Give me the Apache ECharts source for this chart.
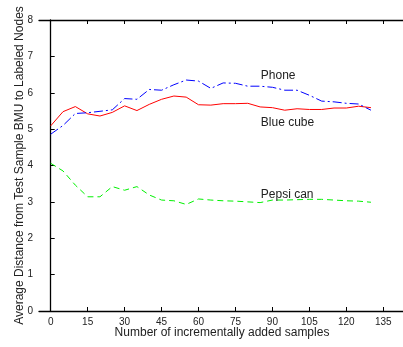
<!DOCTYPE html>
<html><head><meta charset="utf-8">
<script src="https://cdn.jsdelivr.net/npm/echarts@6/dist/echarts.min.js"></script>
<style>html,body{margin:0;padding:0;background:#fff}#c{width:403px;height:347px}</style>
</head><body><div id="c"></div>
<script>
const xValues = [0,5,10,15,20,25,30,35,40,45,50,55,60,65,70,75,80,85,90,95,100,105,110,115,120,125,130];
const phone = [4.86,5.10,5.43,5.45,5.49,5.53,5.84,5.82,6.09,6.07,6.22,6.35,6.32,6.12,6.27,6.26,6.18,6.18,6.15,6.07,6.07,5.93,5.77,5.75,5.71,5.69,5.52];
const blueCube = [5.09,5.48,5.62,5.42,5.36,5.46,5.64,5.51,5.68,5.82,5.91,5.88,5.67,5.66,5.70,5.70,5.71,5.61,5.59,5.52,5.56,5.54,5.54,5.58,5.58,5.63,5.59];
const pepsiCan = [4.06,3.85,3.46,3.14,3.14,3.42,3.32,3.42,3.19,3.05,3.03,2.93,3.08,3.05,3.03,3.02,3.00,2.98,3.05,3.05,3.06,3.07,3.07,3.05,3.03,3.02,2.99];
const xTicks = [0,15,30,45,60,75,90,105,120,135];
const yTicks = [0,1,2,3,4,5,6,7,8];
const seriesNames = ['Phone','Blue cube','Pepsi can'];
const labelPos = [[85.3,6.48],[85.3,5.19],[85.3,3.21]];

const font = 'Liberation Sans, Arial, sans-serif';
const chart = echarts.init(document.getElementById('c'), null, {renderer:'canvas'});
function pairs(v){ return xValues.map((x,i)=>[x,v[i]]); }
const colors = ['#0000ff','#ff0000','#00f000'];
const types = [[9,3,2,3],'solid',[6,4]];
const data = [phone, blueCube, pepsiCan];
const axisLine = {show:true, lineStyle:{color:'#000', width:1.3}};
chart.setOption({
  animation:false,
  grid:{left:39, top:20, right:0, height:291},
  xAxis:[{
    type:'value', min:-4.75, max:143, position:'bottom',
    axisLine: axisLine,
    axisTick:{show:true, inside:true, length:4, customValues:xTicks, lineStyle:{color:'#000'}},
    axisLabel:{customValues:xTicks, color:'#222', fontSize:10, fontFamily:font, margin:6},
    splitLine:{show:false},
    name:'Number of incrementally added samples', nameLocation:'middle', nameGap:16, nameMoveOverlap:false,
    nameTextStyle:{fontSize:12, color:'#222', fontFamily:font, padding:[0,0,0,2]}
  },{
    type:'value', min:-4.75, max:143, position:'top',
    axisLine: axisLine,
    axisTick:{show:true, inside:true, length:4, customValues:xTicks, lineStyle:{color:'#000'}},
    axisLabel:{show:false}, splitLine:{show:false}
  }],
  yAxis:{
    type:'value', min:0, max:8, interval:1,
    axisLine: axisLine,
    axisTick:{show:true, inside:true, length:4, lineStyle:{color:'#000'}},
    axisLabel:{customValues:yTicks, color:'#222', fontSize:10, fontFamily:font, margin:6},
    splitLine:{show:false},
    name:'Average Distance from Test Sample BMU to Labeled Nodes', nameLocation:'middle', nameGap:13, nameMoveOverlap:false,
    nameTextStyle:{fontSize:12, color:'#222', fontFamily:font}
  },
  series: seriesNames.map((n,i)=>({
    name:n, type:'line', data:pairs(data[i]), showSymbol:false, symbol:'none',
    lineStyle:{color:colors[i], width:1, type:types[i]},
    z: 3-i,
    markPoint:{
      symbol:'circle', symbolSize:0,
      data:[{coord:labelPos[i], value:n}],
      label:{show:true, position:'right', distance:0, formatter:n, color:'#222', fontSize:12, fontFamily:font}
    }
  }))
});
</script></body></html>
